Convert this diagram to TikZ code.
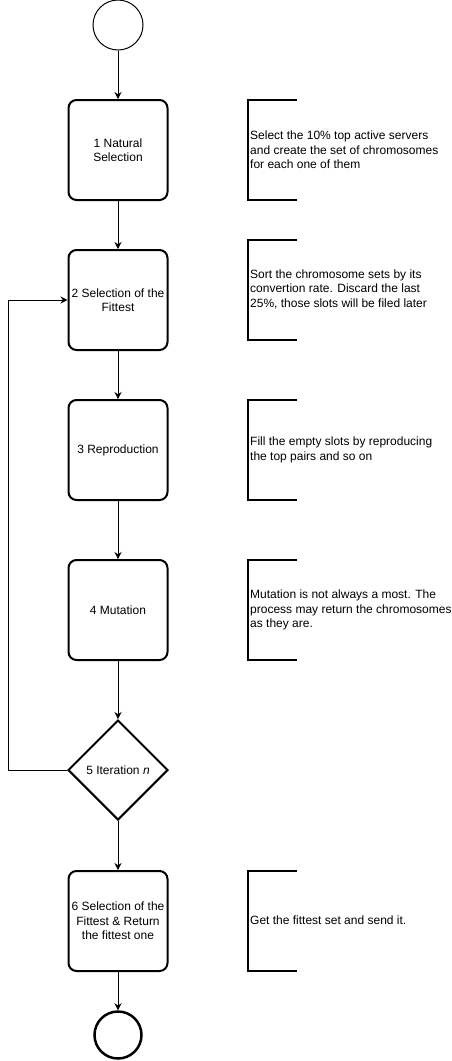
\documentclass[tikz,border=0pt]{standalone}
\usepackage{fontspec}
\setmainfont{Liberation Sans}
\usetikzlibrary{shapes.geometric,arrows.meta}
\begin{document}
\begin{tikzpicture}[x=1pt,y=-1pt,
  every node/.style={font=\fontsize{12}{14.5}\selectfont},
  stepbox/.style={draw,line width=2pt,rounded corners=8pt,minimum width=99pt,minimum height=100pt,inner sep=0pt,align=center},
  decision/.style={draw,line width=2pt,diamond,minimum width=100pt,minimum height=100pt,inner sep=0pt,align=center},
  flow/.style={line width=1pt,-{Stealth[length=7pt,width=7pt]}},
  bracket/.style={line width=2pt},
  note/.style={align=left,anchor=west,inner sep=0pt}]
\useasboundingbox (0,0) rectangle (452,1061);
\node[draw,circle,line width=1pt,minimum size=50pt,inner sep=0pt] (start) at (118,25) {};
\node[stepbox] (s1) at (118,150) {1 Natural\\Selection};
\node[stepbox] (s2) at (118,300) {2 Selection of the\\Fittest};
\node[stepbox] (s3) at (118,450) {3 Reproduction};
\node[stepbox] (s4) at (118,610) {4 Mutation};
\node[decision] (s5) at (118,770) {5 Iteration \textit{n}};
\node[stepbox] (s6) at (118,921) {6 Selection of the\\Fittest \& Return\\the fittest one};
\node[draw,circle,line width=2.5pt,minimum size=47pt,inner sep=0pt] (stop) at (118,1035) {};
\draw[flow] (start) -- (s1);
\draw[flow] (s1) -- (s2);
\draw[flow] (s2) -- (s3);
\draw[flow] (s3) -- (s4);
\draw[flow] (s4) -- (s5.north);
\draw[flow] (s5.south) -- (s6);
\draw[flow] (s6) -- (stop);
\coordinate (lb) at (8,770);
\coordinate (lt) at (8,300);
\draw[flow] (s5.west) -- (lb) -- (lt) -- (s2.west);
% annotations
\draw[bracket] (297,100) -- (248,100) -- (248,200) -- (297,200);
\node[note] (n1) at (250,150) {Select the 10\% top active servers\\and create the set of chromosomes\\for each one of them};
\draw[bracket] (297,240) -- (248,240) -- (248,340) -- (297,340);
\node[note] (n2) at (250,289) {Sort the chromosome sets by its\\convertion rate. Discard the last\\25\%, those slots will be filed later};
\draw[bracket] (297,400) -- (248,400) -- (248,500) -- (297,500);
\node[note] (n3) at (250,450) {Fill the empty slots by reproducing\\the top pairs and so on};
\draw[bracket] (297,560) -- (248,560) -- (248,660) -- (297,660);
\node[note] (n4) at (250,610) {Mutation is not always a most. The\\process may return the chromosomes\\as they are.};
\draw[bracket] (297,871) -- (248,871) -- (248,971) -- (297,971);
\node[note] (n5) at (250,920) {Get the fittest set and send it.};
\end{tikzpicture}
\end{document}
